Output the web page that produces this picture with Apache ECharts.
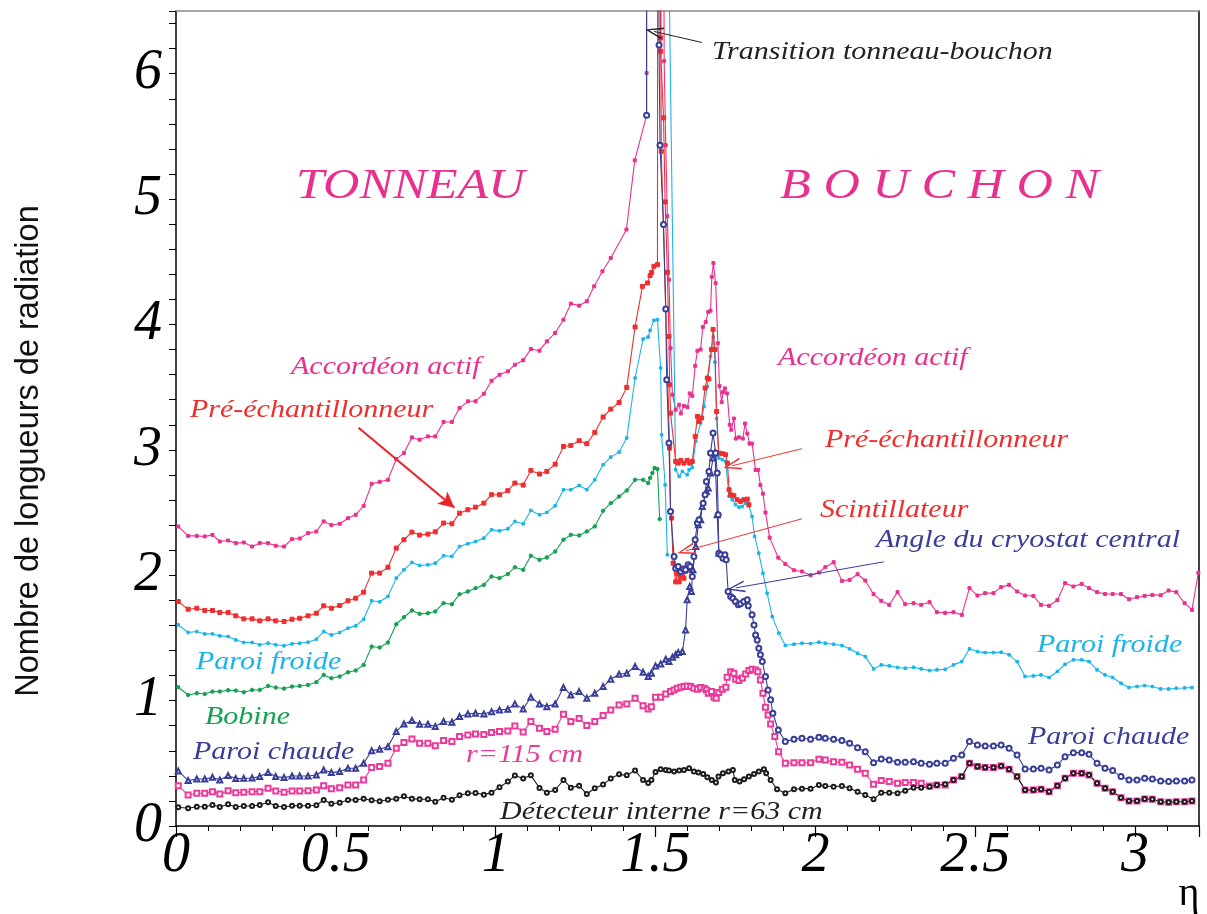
<!DOCTYPE html>
<html><head><meta charset="utf-8">
<script src="https://cdn.jsdelivr.net/npm/echarts@6/dist/echarts.min.js"></script>
<style>html,body{margin:0;padding:0;background:#fff}#c{width:1207px;height:914px}</style>
</head><body><div id="c"></div>
<script>
// ---------- shared eta grids ----------
const etaBarrel = [0.007,0.038,0.065,0.090,0.114,0.137,0.163,0.187,0.212,0.238,
 0.262,0.288,0.312,0.338,0.363,0.387,0.413,0.439,0.462,0.486,
 0.512,0.538,0.562,0.587,0.612,0.637,0.663,0.689,0.713,0.738,
 0.762,0.788,0.811,0.837,0.863,0.887,0.913,0.937,0.963,0.987,
 1.012,1.038,1.060,1.086,1.110,1.137,1.160,1.186,1.212,1.235,
 1.261,1.285,1.310,1.336,1.360,1.386,1.410,1.436,1.461,1.477,
 1.487,1.500,1.516,1.532];
const etaEndcap = [1.906,1.933,1.958,1.985,2.011,2.031,2.057,2.083,2.107,2.132,
 2.156,2.182,2.206,2.231,2.257,2.281,2.307,2.331,2.357,2.380,
 2.406,2.432,2.458,2.482,2.507,2.531,2.557,2.581,2.606,2.631,
 2.656,2.682,2.706,2.731,2.757,2.781,2.807,2.833,2.856,2.881,
 2.906,2.930,2.956,2.981,3.006,3.030,3.054,3.080,3.105,3.129,
 3.155,3.178];

// ---------- Accordéon actif ----------
const accBarrel = [2.389,2.314,2.314,2.309,2.322,2.269,2.277,2.256,2.261,2.229,
 2.256,2.256,2.235,2.229,2.288,2.293,2.336,2.349,2.429,2.400,
 2.410,2.455,2.482,2.554,2.729,2.745,2.761,2.926,2.974,3.099,
 3.081,3.107,3.107,3.222,3.222,3.333,3.387,3.387,3.448,3.551,
 3.599,3.626,3.679,3.714,3.804,3.791,3.865,3.932,4.038,4.166,
 4.150,4.185];
const accTransition = [[1.308,4.304],[1.334,4.424],[1.360,4.530],[1.409,4.757],[1.435,5.309],[1.472,5.668],[1.472,6.006],[1.472,12],
 [1.520,12],[1.527,6.100],[1.532,5.430],[1.537,4.863],[1.542,4.357],[1.547,3.81],[1.553,3.44],[1.563,3.32],[1.574,3.36],[1.579,3.29],
 [1.589,3.35],[1.600,3.34],[1.607,3.45],[1.615,3.43],[1.624,3.67],[1.631,3.79],[1.641,3.80],[1.648,3.98],[1.657,4.02],[1.665,4.10],
 [1.672,4.11],[1.676,4.38],[1.681,4.49],[1.688,4.33],[1.695,3.85],[1.700,3.51],[1.707,3.38],[1.711,3.46],[1.717,3.49],[1.724,3.45],
 [1.732,3.20],[1.737,3.16],[1.745,3.25],[1.751,3.09],[1.761,3.10],[1.773,3.09],[1.780,3.21],[1.787,3.13],[1.794,3.05],[1.802,3.05],
 [1.813,2.84],[1.821,2.84],[1.828,2.72],[1.836,2.65],[1.844,2.50],[1.857,2.30],[1.884,2.14]];
const accEndcap = [2.090,2.040,2.030,2.000,2.022,2.064,2.104,1.955,1.963,2.008,
 1.958,1.849,1.796,1.764,1.865,1.769,1.777,1.764,1.785,1.705,
 1.700,1.705,1.684,1.897,1.838,1.857,1.857,1.905,1.923,1.870,
 1.838,1.835,1.764,1.756,1.801,1.937,1.910,1.931,1.897,1.865,
 1.850,1.850,1.850,1.809,1.825,1.835,1.843,1.840,1.878,1.865,
 1.777,1.724];
const accTail = [[3.198,2.02]];

// ---------- Pré-échantillonneur ----------
const preBarrel = [1.790,1.729,1.737,1.719,1.719,1.703,1.703,1.676,1.652,1.652,
 1.636,1.652,1.636,1.631,1.649,1.657,1.676,1.697,1.756,1.737,
 1.758,1.796,1.817,1.865,2.017,2.017,2.064,2.216,2.283,2.344,
 2.320,2.328,2.346,2.416,2.410,2.495,2.522,2.543,2.575,2.642,
 2.642,2.674,2.735,2.719,2.836,2.807,2.828,2.886,3.027,3.035,
 3.073,3.049,3.139,3.262,3.325,3.378,3.498,3.980];
const preBarrelEnd = [[1.459,4.304],[1.475,4.331],[1.483,4.390],[1.488,4.416],[1.495,4.464],[1.506,4.477],[1.508,12]];
const preEndcap = [[1.512,12],[1.516,6.286],[1.516,6.179],[1.525,5.648],[1.530,4.977],[1.537,4.416],[1.542,3.905],[1.544,3.519],
 [1.547,3.293],[1.563,2.908],[1.571,2.894],[1.579,2.915],[1.589,2.894],[1.599,2.915],[1.607,2.894],[1.615,2.908],[1.624,3.107],
 [1.631,3.267],[1.636,3.227],[1.644,3.254],[1.655,3.493],[1.662,3.573],[1.667,3.565],[1.675,3.800],[1.680,3.960],[1.686,3.800],
 [1.691,3.306],[1.698,2.974],[1.709,2.969],[1.719,2.961],[1.725,2.894],[1.730,2.682],[1.735,2.642],[1.745,2.634],[1.755,2.602],
 [1.766,2.589],[1.776,2.602],[1.787,2.607],[1.792,2.562]];

// ---------- Scintillateur ----------
const scint = [[1.509,12],[1.518,5.381],[1.544,3.014],[1.547,2.509],[1.550,2.456],[1.555,2.096],[1.563,1.947],[1.568,2.013],
 [1.574,1.947],[1.579,1.987],[1.584,2.043],[1.589,1.976],[1.594,2.030],[1.605,2.043]];

// ---------- Paroi froide ----------
const cyanBarrel = [1.604,1.543,1.551,1.532,1.532,1.516,1.511,1.484,1.463,1.463,
 1.445,1.458,1.445,1.437,1.453,1.458,1.466,1.490,1.551,1.524,
 1.543,1.578,1.596,1.649,1.796,1.788,1.830,1.977,2.043,2.102,
 2.078,2.083,2.096,2.155,2.150,2.229,2.251,2.269,2.296,2.362,
 2.354,2.370,2.429,2.410,2.517,2.482,2.501,2.554,2.682,2.682,
 2.716,2.682,2.761,2.881,2.942,2.982,3.094,3.573,3.884,3.900];
const cyanBarrelEnd = [[1.483,3.953],[1.495,4.033],[1.506,4.038],[1.516,3.653],[1.519,3.120],[1.530,2.721],[1.537,2.163]];
const cyanTransition = [[1.515,12],[1.563,2.841],[1.574,2.788],[1.584,2.828],[1.599,2.801],[1.605,2.841],[1.615,2.86],[1.626,3.07],
 [1.641,3.214],[1.652,3.346],[1.662,3.506],[1.672,3.745],[1.681,3.900],[1.686,3.70],[1.691,3.25],[1.698,2.934],[1.709,2.921],
 [1.719,2.908],[1.730,2.629],[1.740,2.602],[1.750,2.562],[1.761,2.543],[1.771,2.548],[1.782,2.575],[1.792,2.554],[1.802,2.469],
 [1.810,2.309],[1.823,2.176],[1.836,2.016],[1.849,1.857],[1.865,1.670],[1.886,1.538]];
const cyanEndcap = [1.440,1.450,1.458,1.455,1.466,1.458,1.450,1.439,1.413,1.378,
 1.351,1.253,1.285,1.277,1.264,1.258,1.266,1.253,1.240,1.245,
 1.250,1.285,1.311,1.413,1.391,1.383,1.383,1.386,1.365,1.311,
 1.192,1.197,1.205,1.184,1.232,1.290,1.325,1.325,1.311,1.245,
 1.205,1.184,1.139,1.104,1.112,1.120,1.112,1.093,1.093,1.099,
 1.101,1.104];

// ---------- Bobine ----------
const greenBarrel = [1.107,1.045,1.059,1.053,1.072,1.072,1.083,1.080,1.067,1.085,
 1.085,1.117,1.104,1.096,1.112,1.117,1.125,1.147,1.205,1.179,
 1.192,1.226,1.240,1.285,1.431,1.423,1.463,1.609,1.665,1.719,
 1.692,1.697,1.711,1.777,1.769,1.849,1.870,1.897,1.923,1.990,
 1.977,2.009,2.064,2.043,2.155,2.123,2.142,2.189,2.283,2.322,
 2.317,2.349,2.389,2.514,2.575,2.628,2.676,2.761,2.761,2.735];
const greenEnd = [[1.483,2.775],[1.490,2.815],[1.497,2.855],[1.506,2.847],[1.513,2.448]];

// ---------- Paroi chaude (tonneau) ----------
const warmBarrel = [0.439,0.362,0.375,0.375,0.388,0.367,0.402,0.378,0.380,0.383,
 0.394,0.426,0.394,0.386,0.399,0.399,0.399,0.407,0.447,0.426,
 0.434,0.460,0.460,0.500,0.601,0.612,0.633,0.753,0.814,0.841,
 0.811,0.811,0.793,0.833,0.827,0.873,0.894,0.899,0.894,0.912,
 0.926,0.931,0.974,0.934,1.027,0.974,0.952,0.974,1.104,1.045,
 1.072,1.019,1.059,1.112,1.171,1.210,1.218,1.272,1.226,1.192,
 1.218,1.277,1.293,1.330];
const warmEnd = [[1.542,1.311],[1.553,1.346],[1.563,1.365],[1.571,1.383],[1.584,1.391],[1.594,1.564],[1.599,1.804],[1.607,1.910],
 [1.612,1.870],[1.617,2.043],[1.626,2.229],[1.634,2.402],[1.641,2.442],[1.646,2.548],[1.659,2.668],[1.665,2.695],[1.672,2.815],
 [1.680,2.934],[1.686,2.974],[1.693,2.482],[1.698,2.176]];

// ---------- Angle du cryostat central / Paroi chaude (bouchon) ----------
const cryoTransition = [[1.472,5.668],[1.472,12],[1.508,12],[1.511,6.228],[1.514,5.430],[1.525,4.797],[1.532,4.123],[1.535,3.559],
 [1.542,3.054],[1.547,2.509],[1.558,2.149],[1.563,2.056],[1.571,2.069],[1.579,2.030],[1.587,2.049],[1.594,2.043],[1.602,2.083],
 [1.608,2.069],[1.615,1.990],[1.620,2.149],[1.624,2.283],[1.631,2.416],[1.636,2.442],[1.649,2.575],[1.655,2.642],[1.659,2.748],
 [1.667,2.828],[1.672,2.974],[1.680,3.134],[1.688,2.974],[1.693,2.815],[1.696,2.482],[1.698,2.176],[1.704,2.163],[1.711,2.136],
 [1.717,2.163],[1.721,2.123],[1.727,1.870],[1.735,1.830],[1.742,1.817],[1.750,1.791],[1.759,1.764],[1.766,1.772],[1.776,1.791],
 [1.787,1.804],[1.790,1.756],[1.802,1.684],[1.808,1.604],[1.813,1.524],[1.818,1.484],[1.823,1.418],[1.828,1.365],[1.834,1.312],
 [1.844,1.192],[1.852,1.085],[1.860,1.006],[1.867,0.899],[1.884,0.766]];
const cryoEndcap = [0.673,0.692,0.700,0.692,0.708,0.700,0.692,0.681,0.660,0.625,
 0.593,0.505,0.535,0.527,0.508,0.508,0.513,0.500,0.492,0.500,
 0.500,0.540,0.567,0.673,0.646,0.638,0.638,0.646,0.620,0.567,
 0.455,0.455,0.460,0.447,0.487,0.553,0.585,0.585,0.572,0.500,
 0.460,0.442,0.394,0.367,0.367,0.380,0.375,0.359,0.354,0.359,
 0.359,0.367];

// ---------- r = 115 cm ----------
const r115Barrel = [0.322,0.247,0.261,0.261,0.274,0.255,0.282,0.266,0.269,0.274,
 0.274,0.301,0.279,0.269,0.279,0.279,0.282,0.287,0.322,0.298,
 0.306,0.327,0.327,0.367,0.466,0.474,0.500,0.620,0.665,0.694,
 0.660,0.660,0.641,0.681,0.673,0.713,0.726,0.734,0.729,0.745,
 0.753,0.758,0.798,0.750,0.833,0.779,0.753,0.772,0.891,0.833,
 0.857,0.801,0.833,0.881,0.926,0.966,0.974,1.019,0.960,0.934,
 0.952,1.027,1.027,1.053];
const r115Transition = [[1.547,1.072],[1.558,1.085],[1.568,1.099],[1.579,1.107],[1.589,1.112],[1.599,1.117],[1.610,1.112],
 [1.620,1.099],[1.631,1.091],[1.641,1.104],[1.652,1.099],[1.659,1.085],[1.665,1.059],[1.675,1.072],[1.683,1.027],[1.690,1.019],
 [1.698,1.064],[1.709,1.091],[1.720,1.107],[1.724,1.187],[1.735,1.231],[1.745,1.218],[1.751,1.171],[1.761,1.160],[1.772,1.180],
 [1.782,1.213],[1.792,1.240],[1.802,1.251],[1.813,1.245],[1.820,1.231],[1.828,1.165],[1.836,1.059],[1.844,0.947],[1.852,0.886],
 [1.860,0.814],[1.873,0.713],[1.885,0.593]];
const r115Endcap = [0.500,0.505,0.505,0.505,0.532,0.527,0.513,0.508,0.487,0.452,
 0.420,0.333,0.362,0.354,0.341,0.346,0.346,0.341,0.319,0.327,
 0.327,0.367,0.394,0.500,0.474,0.466,0.466,0.479,0.452,0.394,
 0.287,0.287,0.293,0.274,0.322,0.380,0.420,0.420,0.407,0.341,
 0.301,0.274,0.226,0.200,0.200,0.215,0.213,0.194,0.189,0.194,
 0.194,0.200];

// ---------- Détecteur interne r = 63 cm ----------
const idBarrel = [0.149,0.141,0.154,0.154,0.168,0.152,0.173,0.152,0.160,0.160,
 0.168,0.189,0.160,0.152,0.162,0.162,0.162,0.165,0.208,0.178,
 0.186,0.208,0.208,0.218,0.205,0.197,0.210,0.218,0.237,0.218,
 0.213,0.213,0.194,0.226,0.210,0.245,0.261,0.263,0.250,0.266,
 0.309,0.354,0.402,0.378,0.404,0.303,0.266,0.287,0.367,0.306,
 0.322,0.255,0.301,0.330,0.378,0.412,0.404,0.442,0.367,0.343,
 0.367,0.431,0.452,0.447];
const idTransition = [[1.542,0.442],[1.558,0.434],[1.574,0.442],[1.589,0.447],[1.605,0.460],[1.620,0.434],[1.634,0.426],
 [1.649,0.415],[1.662,0.388],[1.676,0.367],[1.689,0.346],[1.697,0.394],[1.711,0.420],[1.728,0.434],[1.742,0.447],[1.748,0.367],
 [1.763,0.354],[1.777,0.372],[1.792,0.394],[1.808,0.415],[1.823,0.434],[1.839,0.452],[1.846,0.420],[1.860,0.367],[1.880,0.293]];
const idEndcap = [0.261,0.293,0.298,0.298,0.327,0.319,0.314,0.319,0.301,0.274,
 0.247,0.213,0.266,0.266,0.261,0.282,0.306,0.306,0.314,0.327,
 0.333,0.367,0.394,0.500,0.474,0.466,0.466,0.479,0.452,0.394,
 0.287,0.287,0.293,0.274,0.322,0.380,0.420,0.420,0.407,0.341,
 0.301,0.274,0.226,0.200,0.200,0.215,0.213,0.194,0.189,0.194,
 0.194,0.200];

// ---------- axis ticks ----------
const xTickLabels = [0, 0.5, 1, 1.5, 2, 2.5, 3];
const yTickLabels = [0, 1, 2, 3, 4, 5, 6];

// ---------- annotations (arrows in data coordinates) ----------
const arrows = [
  {from:[1.645,6.249], to:[1.495,6.337], color:'#222', width:1, open:true},
  {from:[0.571,3.176], to:[0.871,2.538], color:'#e8262b', width:2.2, open:false},
  {from:[1.958,3.009], to:[1.739,2.873], color:'#ee3535', width:1, open:true},
  {from:[1.958,2.450], to:[1.595,2.195], color:'#ee3535', width:1, open:true},
  {from:[2.214,2.107], to:[1.751,1.899], color:'#3b3f98', width:1, open:true}
];

const C = {pink:'#e8318f', red:'#ee2f2f', cyan:'#19b4ea', green:'#15a153', blue:'#393e97', pinkSq:'#ec3a9a', black:'#1c1c1c'};

function pairs(etas, vals){ return vals.map((v,i)=>[etas[i], v]); }

function line(data, color, symbol, size, z){
  return {type:'line', data, xAxisIndex:0, yAxisIndex:0, clip:true, z:z||2,
    symbol, symbolSize:size, showSymbol:true,
    lineStyle:{color, width:1.1}, itemStyle:{color, borderColor:color, borderWidth:1},
    emphasis:{disabled:true}, silent:true, animation:false};
}

const openHead = 'path://M5,0L10,16L8.6,16L5,3.6L1.4,16L0,16Z';
const markData = arrows.map(a => [
  {coord:a.from, symbol:'none', lineStyle:{color:a.color, width:a.width, type:'solid'}},
  {coord:a.to, symbol: a.open ? openHead : 'arrow', symbolSize: a.open ? [12,18] : [12,16], itemStyle:{color:a.color}}
]);

const serif = '"Liberation Serif", "Times New Roman", serif';
function T(text, x, y, color, size){
  return {type:'text', x, y, scaleX:1.2, silent:true, z:100,
    style:{text, fill:color, font:'italic ' + (size||25) + 'px ' + serif, align:'left', verticalAlign:'middle'}};
}

const series = [
  line(pairs(etaBarrel, accBarrel).concat(accTransition, pairs(etaEndcap, accEndcap), accTail), C.pink, 'rect', 3, 2),
  line(pairs(etaBarrel, preBarrel).concat(preBarrelEnd), C.red, 'rect', 4, 3),
  line(preEndcap, C.red, 'rect', 4, 3),
  line(scint, C.red, 'rect', 4, 3),
  line(pairs(etaBarrel, cyanBarrel).concat(cyanBarrelEnd), C.cyan, 'rect', 2.5, 2),
  line(cyanTransition.concat(pairs(etaEndcap, cyanEndcap)), C.cyan, 'rect', 2.5, 2),
  line(pairs(etaBarrel, greenBarrel).concat(greenEnd), C.green, 'circle', 3.5, 2),
  line(pairs(etaBarrel, warmBarrel).concat(warmEnd), C.blue, 'emptyTriangle', 5, 4),
  line(cryoTransition.concat(pairs(etaEndcap, cryoEndcap)), C.blue, 'emptyCircle', 5, 4),
  line(pairs(etaBarrel, r115Barrel).concat(r115Transition, pairs(etaEndcap, r115Endcap)), C.pinkSq, 'emptyRect', 5, 3),
  line(pairs(etaBarrel, idBarrel).concat(idTransition, pairs(etaEndcap, idEndcap)), C.black, 'emptyCircle', 4, 3)
];
series[series.length-1].markLine = {silent:true, animation:false, symbol:['none','arrow'], label:{show:false}, data:markData};

const chart = echarts.init(document.getElementById('c'), null, {renderer:'canvas'});
chart.setOption({
  animation:false,
  backgroundColor:'#fff',
  grid:{left:176, right:8, top:11, bottom:88, containLabel:false},
  xAxis:[
    {type:'value', min:0, max:3.2, interval:0.1,
     axisLine:{show:true, onZero:false, lineStyle:{color:'#000', width:1.5}},
     axisTick:{show:true, length:5, lineStyle:{color:'#000', width:1}},
     axisLabel:{show:false}, splitLine:{show:false}},
    {type:'value', min:0, max:3.2, interval:0.5, position:'bottom',
     axisLine:{show:false, onZero:false},
     axisTick:{show:true, length:11, lineStyle:{color:'#000', width:1.2}},
     axisLabel:{show:true, margin:2, color:'#000', fontFamily:serif, fontStyle:'italic', fontSize:56,
       formatter:v => xTickLabels.some(t => Math.abs(t - v) < 1e-6) ? String(+v.toFixed(1)) : ''},
     splitLine:{show:false}},
    {type:'value', min:0, max:3.2, position:'top',
     axisLine:{show:true, onZero:false, lineStyle:{color:'#8a8a8a', width:1.5}},
     axisTick:{show:false}, axisLabel:{show:false}, splitLine:{show:false}}
  ],
  yAxis:[
    {type:'value', min:0, max:6.5, interval:0.2,
     axisLine:{show:true, onZero:false, lineStyle:{color:'#000', width:1.5}},
     axisTick:{show:true, length:7, lineStyle:{color:'#000', width:1}},
     axisLabel:{show:true, margin:14, color:'#000', fontFamily:serif, fontStyle:'italic', fontSize:56,
       formatter:v => yTickLabels.some(t => Math.abs(t - v) < 1e-6) ? String(Math.round(v)) : ''},
     splitLine:{show:false}},
    {type:'value', min:0, max:6.5, position:'right',
     axisLine:{show:true, onZero:false, lineStyle:{color:'#000', width:1.5}},
     axisTick:{show:false}, axisLabel:{show:false}, splitLine:{show:false}}
  ],
  series,
  graphic:[
    {type:'text', x:29, y:451, rotation:Math.PI/2, silent:true,
     style:{text:'Nombre de longueurs de radiation', fill:'#111', font:'32.5px "Liberation Sans", Arial, sans-serif', align:'center', verticalAlign:'middle'}},
    T('TONNEAU', 296, 187, C.pink, 42),
    T('B O U C H O N', 780, 187, C.pink, 42),
    T('Transition tonneau-bouchon', 712, 52, '#222', 25),
    T('Accordéon actif', 291, 367, C.pink),
    T('Accordéon actif', 778, 358, C.pink),
    T('Pré-échantillonneur', 190, 410, C.red),
    T('Pré-échantillonneur', 825, 440, C.red),
    T('Scintillateur', 820, 510, C.red),
    T('Angle du cryostat central', 876, 540, C.blue),
    T('Paroi froide', 196, 662, C.cyan),
    T('Paroi froide', 1037, 645, C.cyan),
    T('Bobine', 205, 717, C.green),
    T('Paroi chaude', 193, 752, C.blue),
    T('Paroi chaude', 1028, 737, C.blue),
    T('r=115 cm', 466, 755, C.pinkSq),
    T('Détecteur interne r=63 cm', 500, 812, '#222'),
    {type:'text', x:1189, y:894, silent:true, style:{text:'η', fill:'#000', font:'40px ' + serif, align:'center', verticalAlign:'middle'}}
  ]
});
</script>
</body></html>
